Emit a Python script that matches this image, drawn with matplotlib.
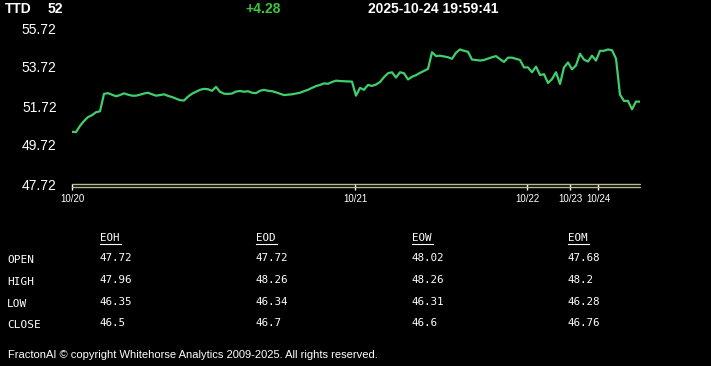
import matplotlib
matplotlib.use("Agg")
import matplotlib.pyplot as plt
from matplotlib.lines import Line2D

W, H = 711, 366

# header
symbol = "TTD"
last_price = "52"
change = "+4.28"
timestamp = "2025-10-24 19:59:41"

# intraday price samples, 10/20 .. 10/24
prices = [
    50.40, 50.38, 50.70, 50.95, 51.15, 51.25, 51.40, 51.45, 52.34, 52.38,
    52.30, 52.22, 52.28, 52.37, 52.30, 52.25, 52.25, 52.30, 52.36, 52.40,
    52.32, 52.25, 52.28, 52.32, 52.24, 52.18, 52.10, 52.02, 52.00, 52.20,
    52.35, 52.45, 52.55, 52.60, 52.58, 52.50, 52.70, 52.45, 52.35, 52.34,
    52.36, 52.46, 52.49, 52.45, 52.48, 52.40, 52.38, 52.50, 52.55, 52.50,
    52.48, 52.42, 52.35, 52.28, 52.30, 52.32, 52.36, 52.40, 52.48, 52.55,
    52.65, 52.74, 52.80, 52.88, 52.86, 52.95, 53.02, 53.00, 52.99, 52.98,
    52.97, 52.25, 52.65, 52.55, 52.80, 52.75, 52.82, 52.95, 53.20, 53.40,
    53.45, 53.18, 53.45, 53.40, 53.08, 53.22, 53.30, 53.42, 53.52, 53.62,
    54.48, 54.28, 54.30, 54.26, 54.22, 54.14, 54.45, 54.62, 54.55, 54.50,
    54.10, 54.08, 54.05, 54.08, 54.15, 54.22, 54.28, 54.12, 53.98, 54.20,
    54.20, 54.14, 54.08, 53.70, 53.70, 53.45, 53.74, 53.31, 53.35, 52.90,
    53.10, 53.45, 52.85, 53.70, 53.95, 53.60, 53.80, 54.40, 54.10, 54.00,
    54.30, 54.05, 54.55, 54.55, 54.62, 54.58, 54.15, 52.30, 51.98, 51.98,
    51.55, 51.95, 51.94,
]
y_ticks = [47.72, 49.72, 51.72, 53.72, 55.72]
date_labels = ["10/20", "10/21", "10/22", "10/23", "10/24"]
date_index = [0, 70.75, 113.75, 124.5, 131.5]

# summary table
periods = ["EOH", "EOD", "EOW", "EOM"]
row_names = ["OPEN", "HIGH", "LOW", "CLOSE"]
table = {
    "EOH": ["47.72", "47.96", "46.35", "46.5"],
    "EOD": ["47.72", "48.26", "46.34", "46.7"],
    "EOW": ["48.02", "48.26", "46.31", "46.6"],
    "EOM": ["47.68", "48.2", "46.28", "46.76"],
}
footer = "FractonAI \u00a9 copyright Whitehorse Analytics 2009-2025. All rights reserved."

SANS = "Liberation Sans"
MONO = "DejaVu Sans Mono"


def fx(px):
    return px / W


def fy(py):
    return 1 - py / H


fig = plt.figure(figsize=(W / 100, H / 100), dpi=100, facecolor="black")
ax = fig.add_axes([fx(72), fy(184), fx(640) - fx(72), fy(28) - fy(184)])
ax.set_facecolor("black")

ax.plot(range(len(prices)), prices, color="#3fcf6c", lw=1.6, solid_joinstyle="round")
ax.set_xlim(0, len(prices) - 1)
ax.set_ylim(y_ticks[0], y_ticks[-1])

for s in ax.spines.values():
    s.set_visible(False)

# double baseline
for off in (0.0, -2.6 / 156):
    ax.plot([0, 1], [off, off], transform=ax.transAxes, color="#b9b98f",
            lw=1.0, clip_on=False, solid_capstyle="round")

ax.set_yticks(y_ticks)
ax.set_yticklabels([f"{v:.2f}" for v in y_ticks], fontsize=10, family=SANS, color="white")
ax.tick_params(axis="y", length=0, pad=11)
ax.set_xticks(date_index)
ax.set_xticklabels(date_labels, fontsize=7, family=SANS, color="white")
ax.tick_params(axis="x", length=4, color="white", width=1, pad=3)

# header line
fig.text(fx(5), fy(9), symbol, fontsize=10, weight="bold", family=SANS, color="white", va="center")
fig.text(fx(48), fy(9), last_price, fontsize=10, weight="bold", family=SANS, color="white", va="center")
fig.text(fx(245), fy(9), change, fontsize=10, weight="bold", family=SANS, color="#3cc63c", va="center")
fig.text(fx(368), fy(9), timestamp, fontsize=10, weight="bold", family=SANS, color="white", va="center")

# table
col_x = [99, 255, 411, 567]
row_y = [258, 280, 302, 323]
for name, ry in zip(row_names, row_y):
    fig.text(fx(7), fy(ry + 2), name, fontsize=8, family=MONO, color="white", va="center")
for p, cx in zip(periods, col_x):
    fig.text(fx(cx + 1), fy(238), p, fontsize=7.8, family=MONO, color="white", va="center")
    fig.add_artist(Line2D([fx(cx + 1), fx(cx + 22)], [fy(244), fy(244)], color="white", lw=0.8))
    for val, ry in zip(table[p], row_y):
        fig.text(fx(cx), fy(ry), val, fontsize=7.8, family=MONO, color="white", va="center")

fig.text(fx(8), fy(355), footer, fontsize=8, family=SANS, color="white", va="center")

fig.savefig("out.png", dpi=100, facecolor="black")
